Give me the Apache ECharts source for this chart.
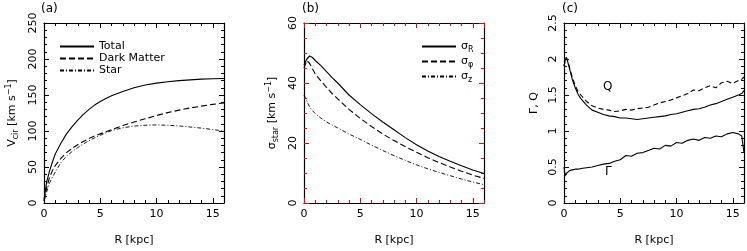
<!DOCTYPE html>
<html><head><meta charset="utf-8">
<script src="https://cdn.jsdelivr.net/npm/echarts@6/dist/echarts.min.js"></script>
<style>html,body{margin:0;padding:0;background:#fff}#c{width:747px;height:251px}</style>
</head><body><div id="c"></div>
<script>
// ---- Panel (a): circular velocity ----
const R_a = [0,0.25,0.5,0.75,1,1.5,2,2.5,3,3.5,4,4.5,5,5.5,6,7,8,9,10,11,12,13,14,15,16];
const vTotal = [5,30,45,57,68,83,96,106,115,123,130,136,141,145,149,155,160,164,166.5,168.5,170,171,172,172.5,173];
const vDark  = [3,22,36,45,52,62,70,76,81,85.5,89.5,93,96,99,102,107.5,112.5,117,121.5,125.5,129,132,134.5,137,139];
const vStar  = [3,16,28,36,43,56,65,71.5,77,82,86.5,90.5,94,97.5,100.5,104.5,106.8,108,108.5,108,107,105.5,104,102,100];
// ---- Panel (b): stellar velocity dispersions ----
const R_b = [0,0.25,0.5,0.75,1,1.5,2,2.5,3,4,5,6,7,8,9,10,11,12,13,14,15,16];
const sigR = [46,48,49,48.5,47.5,45.8,43.8,41.8,40,36,32.8,29.8,27,24.4,21.8,19.4,17.3,15.5,13.9,12.4,11,9.8];
const sigP = [45,47.5,46.5,44.8,43,40.7,38.5,36.5,34.7,31.2,28.2,25.5,23,20.8,18.8,16.9,15.1,13.5,12,10.6,9.3,8.2];
const sigZ = [36,34,32,30.8,29.8,28.3,27,26,25,23,21.2,19.3,17.5,15.8,14.2,12.7,11.4,10.2,9.1,8,7,6.1];
// ---- Panel (c): Gamma and Q ----
const R_c = [0,0.1,0.2,0.3,0.5,0.75,1,1.25,1.5,2,2.5,3,3.5,4,4.5,5,5.5,6,6.5,7,7.5,8,8.5,9,9.5,10,10.5,11,11.5,12,12.5,13,13.5,14,14.5,15,15.5,15.8,16];
const qDash  = [1.9,1.98,2.02,1.99,1.88,1.74,1.63,1.55,1.5,1.41,1.35,1.32,1.3,1.29,1.27,1.28,1.3,1.29,1.31,1.32,1.33,1.36,1.39,1.41,1.43,1.46,1.49,1.52,1.57,1.56,1.6,1.63,1.6,1.67,1.69,1.66,1.7,1.72,1.75];
const qSolid = [1.9,1.98,2.02,1.98,1.86,1.71,1.6,1.51,1.45,1.36,1.29,1.26,1.23,1.21,1.2,1.18,1.18,1.17,1.16,1.17,1.18,1.19,1.2,1.21,1.23,1.24,1.26,1.28,1.3,1.31,1.33,1.36,1.38,1.41,1.44,1.47,1.5,1.52,1.56];
const gamma  = [0.5,0.38,0.41,0.43,0.45,0.46,0.47,0.47,0.48,0.49,0.5,0.52,0.54,0.55,0.58,0.6,0.66,0.65,0.69,0.7,0.73,0.76,0.75,0.8,0.79,0.84,0.83,0.87,0.89,0.87,0.91,0.9,0.93,0.92,0.96,0.98,0.96,0.93,0.7];
// axis ticks
const xTicks = {min:0, max:16, major:5, minor:1};
const yTicksA = {min:0, max:250, major:50, split:5};
const yTicksB = {min:0, max:60, major:20, split:4};
const yTicksC = {min:0, max:2.5, major:0.5, split:5};

const FONT = 'DejaVu Sans';
const BLACK = '#000';
const zip = (xs, ys) => xs.map((x, i) => [x, ys[i]]);

const gridPos = [
  {left:44, top:23, width:180, height:181},
  {left:304, top:23, width:180, height:181},
  {left:564, top:23, width:180, height:181}
];
const yT = [yTicksA, yTicksB, yTicksC];
const yNames = [
  '{n|V}{sb|cir}{n| [km s}{sp|−1}{n|]}',
  '{n|σ}{sb|star}{n| [km s}{sp|−1}{n|]}',
  '{n|Γ, Q}'
];
const richName = {
  n:{fontSize:11, fontFamily:FONT, color:BLACK},
  sb:{fontSize:8, fontFamily:FONT, color:BLACK, padding:[6,0,0,0]},
  sp:{fontSize:8, fontFamily:FONT, color:BLACK, padding:[0,0,7,0]}
};
// diagnostic variants per panel
const tickStyle = [
  {color:'#000', width:1},
  {color:'#f00', width:1},
  {color:'#111', width:1}
];
const tick = (len, g) => ({show:true, inside:true, length:len, lineStyle:{color:tickStyle[g].color, width:tickStyle[g].width, opacity:1}});

const xAxes = [], yAxes = [];
for (let g = 0; g < 3; g++) {
  const axLine = () => ({show:true, onZero:false, lineStyle:{color:BLACK, width:1.2}});
  const noLine = () => ({show:false, onZero:false});
  const base = {type:'value', gridIndex:g, min:xTicks.min, max:xTicks.max, splitLine:{show:false}};
  xAxes.push(Object.assign({}, base, {
    position:'bottom', interval:xTicks.major, axisLine:axLine(), axisTick:tick(5, g),
    axisLabel:{show:true, showMaxLabel:false, margin:6, fontSize:11, fontFamily:FONT, color:BLACK},
    name:'R [kpc]', nameLocation:'middle', nameGap:32,
    nameTextStyle:{fontSize:11, fontFamily:FONT, color:BLACK}
  }));
  xAxes.push(Object.assign({}, base, {
    position:'bottom', interval:xTicks.minor, axisLine:noLine(), axisTick:tick(3, g), axisLabel:{show:false}
  }));
  xAxes.push(Object.assign({}, base, {
    position:'top', interval:xTicks.major, axisLine:axLine(), axisTick:tick(5, g), axisLabel:{show:false}
  }));
  xAxes.push(Object.assign({}, base, {
    position:'top', interval:xTicks.minor, axisLine:noLine(), axisTick:tick(3, g), axisLabel:{show:false}
  }));
  const t = yT[g];
  const ybase = () => ({type:'value', gridIndex:g, min:t.min, max:t.max, interval:t.major, splitLine:{show:false},
    axisLine:axLine(), axisTick:tick(5, g),
    minorTick:{show:true, splitNumber:t.split, length:3, lineStyle:{color:tickStyle[g].color, width:tickStyle[g].width}}});
  yAxes.push(Object.assign(ybase(), {
    position:'left',
    axisLabel:{show:true, rotate:90, margin:5, fontSize:11, fontFamily:FONT, color:BLACK},
    name:yNames[g], nameLocation:'middle', nameGap:24,
    nameTextStyle:{rich:richName, padding: g===2 ? [0,0,0,20] : 0}
  }));
  yAxes.push(Object.assign(ybase(), {position:'right', axisLabel:{show:false}}));
}

const line = (name, xs, ys, g, type, width) => ({
  name, type:'line', xAxisIndex:4*g, yAxisIndex:2*g, data:zip(xs, ys),
  symbol:'none', showSymbol:false, animation:false, silent:true, z:1,
  lineStyle:{color:BLACK, width:width||1.1, type:type||'solid'}, itemStyle:{color:BLACK}
});

const legendLabels = {sR:'σ{s|R}', sP:'σ{s|φ}', sZ:'σ{s|z}'};
const legendBase = {orient:'vertical', itemWidth:34, itemHeight:1, itemGap:1,
  itemStyle:{color:'transparent', borderWidth:0, opacity:0}};
const option = {
  animation:false,
  grid: gridPos,
  xAxis: xAxes,
  yAxis: yAxes,
  legend: [
    Object.assign({}, legendBase, {data:['Total','Dark Matter','Star'], left:54, top:36,
     textStyle:{fontSize:11, fontFamily:FONT, color:BLACK, lineHeight:11}}),
    Object.assign({}, legendBase, {data:['sR','sP','sZ'], left:416, top:36, itemGap:2,
     formatter: n => legendLabels[n],
     textStyle:{fontSize:11, fontFamily:FONT, color:BLACK, lineHeight:11,
       rich:{s:{fontSize:8, fontFamily:FONT, color:BLACK, padding:[7,0,0,0]}}}})
  ],
  graphic: [
    {type:'text', left:41, top:3, style:{text:'(a)', fontSize:12, fontFamily:FONT, fill:BLACK}},
    {type:'text', left:302, top:3, style:{text:'(b)', fontSize:12, fontFamily:FONT, fill:BLACK}},
    {type:'text', left:562, top:3, style:{text:'(c)', fontSize:12, fontFamily:FONT, fill:BLACK}},
    {type:'text', left:603, top:81, style:{text:'Q', fontSize:12, fontFamily:FONT, fill:BLACK}},
    {type:'text', left:605, top:166, style:{text:'Γ', fontSize:12, fontFamily:FONT, fill:BLACK}}
  ],
  series: [
    line('Total', R_a, vTotal, 0, 'solid'),
    line('Dark Matter', R_a, vDark, 0, [6,3]),
    line('Star', R_a, vStar, 0, [4,2,1,2], 0.9),
    line('sR', R_b, sigR, 1, 'solid'),
    line('sP', R_b, sigP, 1, [6,3]),
    line('sZ', R_b, sigZ, 1, [4,2,1,2], 0.9),
    line('Qd', R_c, qDash, 2, [5,3]),
    line('Qs', R_c, qSolid, 2, 'solid'),
    line('Gamma', R_c, gamma, 2, 'solid')
  ]
};
echarts.init(document.getElementById('c')).setOption(option);
</script></body></html>
